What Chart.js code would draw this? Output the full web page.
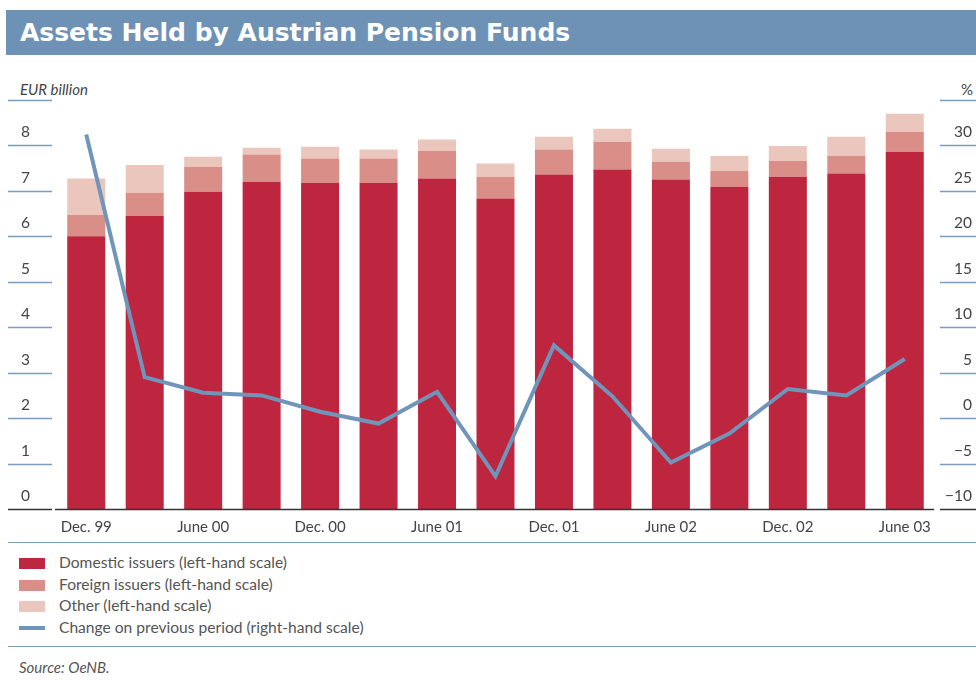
<!DOCTYPE html>
<html>
<head>
<meta charset="utf-8">
<script src="https://cdn.jsdelivr.net/npm/chart.js@4.4.1/dist/chart.umd.min.js"></script>
<style>
  html,body{margin:0;padding:0;background:#fff;}
  body{width:976px;height:680px;position:relative;overflow:hidden;font-family:Lato,"Open Sans",sans-serif;color:#444;}
  #band{position:absolute;left:6px;top:10px;width:970px;height:45px;background:#6d92b5;}
  #title{position:absolute;left:20px;top:10px;height:45px;line-height:45px;color:#fff;font-family:"DejaVu Sans",sans-serif;font-weight:bold;font-size:25px;white-space:nowrap;}
  .unit{position:absolute;top:79px;font-size:15px;font-style:italic;color:#444;line-height:20px;}
  #cwrap{position:absolute;left:0;top:95px;width:976px;height:445px;}
  .sep{position:absolute;left:8px;width:968px;height:1px;background:#7b9dc1;}
  #legend{position:absolute;left:19px;top:552px;}
  .li{position:relative;height:21.5px;line-height:21.5px;font-size:15.6px;color:#555;white-space:nowrap;}
  .sw{position:absolute;left:0;top:6px;width:26px;height:11px;}
  .sw.line{top:9.5px;height:4px;}
  .lt{position:absolute;left:40px;top:0;}
  #source{position:absolute;left:19px;top:657px;font-size:15px;font-style:italic;color:#555;line-height:20px;}
</style>
</head>
<body>
<div id="band"></div>
<div id="title">Assets Held by Austrian Pension Funds</div>
<div class="unit" style="left:20px;">EUR billion</div>
<div class="unit" style="left:961px;font-style:normal;">%</div>
<div id="cwrap"><canvas id="c" width="976" height="445"></canvas></div>
<div class="sep" style="top:542px;"></div>
<div id="legend"></div>
<div class="sep" style="top:646px;"></div>
<div id="source">Source: OeNB.</div>
<script>
// ---- data ----
const categories = ['Dec. 99','','June 00','','Dec. 00','','June 01','','Dec. 01','','June 02','','Dec. 02','','June 03'];
const domestic = [6.00,6.45,6.98,7.20,7.18,7.18,7.27,6.83,7.36,7.47,7.25,7.09,7.31,7.38,7.86];
const foreign  = [0.47,0.51,0.55,0.60,0.53,0.53,0.61,0.48,0.55,0.61,0.39,0.35,0.35,0.39,0.44];
const other    = [0.80,0.61,0.22,0.15,0.26,0.20,0.25,0.29,0.28,0.29,0.29,0.33,0.33,0.42,0.40];
const change   = [31.2,4.5,2.8,2.5,0.7,-0.6,2.9,-6.4,8.0,2.4,-4.9,-1.7,3.2,2.5,6.5];
const leftTicks  = {min:0, max:9, step:1};
const rightTicks = {min:-10, max:35, step:5};
const seriesLabels = ['Domestic issuers (left-hand scale)','Foreign issuers (left-hand scale)','Other (left-hand scale)','Change on previous period (right-hand scale)'];
const colors = ['#be2640','#d98e87','#eac6bc','#6f95ba'];

// legend (HTML)
const lg = document.getElementById('legend');
seriesLabels.forEach((t,i)=>{
  const d=document.createElement('div'); d.className='li';
  const s=document.createElement('div'); s.className='sw'+(i===3?' line':''); s.style.background=colors[i];
  const l=document.createElement('div'); l.className='lt'; l.textContent=t;
  d.appendChild(s); d.appendChild(l); lg.appendChild(d);
});

const fmt = v => v<0 ? '\u2212'+Math.abs(v) : String(v);

const segPlugin = {
  id:'segs',
  afterDraw(chart){
    const ctx=chart.ctx, ca=chart.chartArea;
    const y=chart.scales.y, y1=chart.scales.y1;
    ctx.save();
    y.ticks.forEach(t=>{
      const p=Math.round(y.getPixelForValue(t.value))+0.5;
      ctx.beginPath();
      ctx.strokeStyle = t.value===leftTicks.min ? '#333' : '#7b9dc1';
      ctx.lineWidth = 1.5;
      ctx.moveTo(8,p); ctx.lineTo(52,p); ctx.stroke();
    });
    y1.ticks.forEach(t=>{
      const p=Math.round(y1.getPixelForValue(t.value))+0.5;
      ctx.beginPath();
      ctx.strokeStyle = t.value===rightTicks.min ? '#333' : '#7b9dc1';
      ctx.lineWidth = 1.5;
      ctx.moveTo(940,p); ctx.lineTo(976,p); ctx.stroke();
    });
    const b=Math.round(y.getPixelForValue(0))+0.5;
    ctx.beginPath(); ctx.strokeStyle='#333'; ctx.lineWidth=1.5;
    ctx.moveTo(55,b); ctx.lineTo(ca.right,b); ctx.stroke();
    ctx.restore();
  }
};

function noPadY(s){ s.paddingTop=0; s.paddingBottom=0; }

new Chart(document.getElementById('c'),{
  data:{
    labels:categories,
    datasets:[
      {type:'line',label:seriesLabels[3],data:change,yAxisID:'y1',borderColor:colors[3],borderWidth:4,pointRadius:0,tension:0,order:0,borderJoinStyle:'miter'},
      {type:'bar',label:seriesLabels[0],data:domestic,backgroundColor:colors[0],yAxisID:'y',order:1,barPercentage:0.65,categoryPercentage:1},
      {type:'bar',label:seriesLabels[1],data:foreign,backgroundColor:colors[1],yAxisID:'y',order:1,barPercentage:0.65,categoryPercentage:1},
      {type:'bar',label:seriesLabels[2],data:other,backgroundColor:colors[2],yAxisID:'y',order:1,barPercentage:0.65,categoryPercentage:1}
    ]
  },
  options:{
    responsive:false,animation:false,
    layout:{padding:{top:5,right:4,left:0,bottom:0}},
    plugins:{legend:{display:false},tooltip:{enabled:false}},
    scales:{
      x:{stacked:true,grid:{display:false,drawTicks:false},border:{display:false},
         ticks:{autoSkip:false,maxRotation:0,minRotation:0,padding:9,color:'#444',font:{family:'Lato',size:15}},
         afterFit(s){s.height=31; s.paddingLeft=0; s.paddingRight=0;}},
      y:{position:'left',stacked:true,min:leftTicks.min,max:leftTicks.max,
         grid:{display:false,drawTicks:false},border:{display:false},
         ticks:{stepSize:leftTicks.step,crossAlign:'center',padding:27,labelOffset:-13,color:'#444',font:{family:'Lato',size:15.5},
                callback:v=> v===leftTicks.max ? '' : fmt(v)},
         afterFit(s){s.width=57; noPadY(s);}},
      y1:{position:'right',stacked:false,min:rightTicks.min,max:rightTicks.max,
         grid:{display:false,drawTicks:false},border:{display:false},
         ticks:{stepSize:rightTicks.step,crossAlign:'far',labelOffset:-13,color:'#444',font:{family:'Lato',size:15.5},
                callback:v=> v===rightTicks.max ? '' : fmt(v)},
         afterFit(s){s.width=38; noPadY(s);}}
    }
  },
  plugins:[segPlugin]
});
</script>
</body>
</html>
